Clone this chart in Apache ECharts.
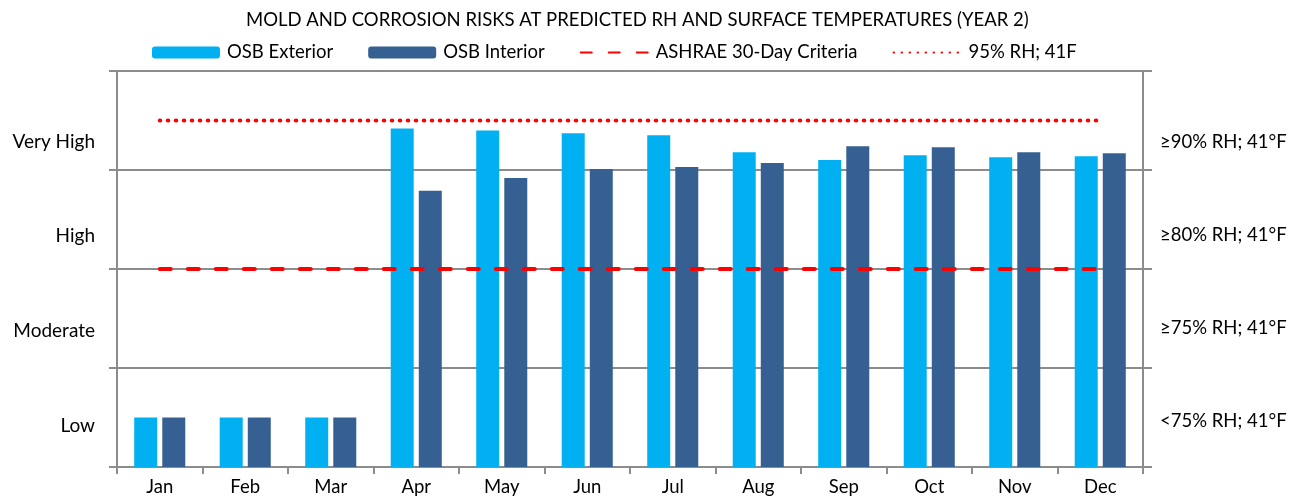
<!DOCTYPE html>
<html><head><meta charset="utf-8">
<script src="https://cdn.jsdelivr.net/npm/echarts@6/dist/echarts.min.js"></script>
<style>html,body{margin:0;padding:0;background:#fff}#c{width:1297px;height:498px}</style>
</head><body><div id="c"></div>
<script>
const months = ['Jan','Feb','Mar','Apr','May','Jun','Jul','Aug','Sep','Oct','Nov','Dec'];
const osbExterior = [0.5,0.5,0.5,3.42,3.40,3.37,3.35,3.18,3.10,3.15,3.13,3.14];
const osbInterior = [0.5,0.5,0.5,2.79,2.92,3.01,3.03,3.07,3.24,3.23,3.18,3.17];
const ashrae = [2,2,2,2,2,2,2,2,2,2,2,2];
const rh95 = [3.5,3.5,3.5,3.5,3.5,3.5,3.5,3.5,3.5,3.5,3.5,3.5];
const riskLevels = ['Low','Moderate','High','Very High'];
const rhLevels = ['<75% RH; 41°F','≥75% RH; 41°F','≥80% RH; 41°F','≥90% RH; 41°F'];
const bands = ['b1','b2','b3','b4'];

const FONT = 'Lato';
const axisGray = '#8c8c8c';
const noAxis = {axisLine:{show:false},axisTick:{show:false},splitLine:{show:false},axisLabel:{show:false}};
const chart = echarts.init(document.getElementById('c'));
chart.setOption({
  animation:false,
  textStyle:{fontFamily:FONT,color:'#000'},
  title:{text:'MOLD AND CORROSION RISKS AT PREDICTED RH AND SURFACE TEMPERATURES (YEAR 2)',left:241,top:6,
    textStyle:{fontFamily:FONT,fontSize:18.5,fontWeight:'normal',color:'#000'}},
  legend:{top:38,left:147,itemWidth:68,itemHeight:12,itemGap:35,
    textStyle:{fontFamily:FONT,fontSize:18.5,color:'#000',padding:[0,0,0,2]},
    data:[{name:'OSB Exterior'},{name:'OSB Interior'},
      {name:'ASHRAE 30-Day Criteria',itemStyle:{opacity:0}},
      {name:'95% RH; 41F',itemStyle:{opacity:0}}]},
  grid:[
    {left:117,right:154,top:71,bottom:31,containLabel:false},
    {left:117,right:154,top:94,height:379,containLabel:false},
    {left:117,right:154,top:95,height:373,containLabel:false}
  ],
  xAxis:[
    {type:'category',data:months,gridIndex:0,
      axisLine:{lineStyle:{color:axisGray,width:2}},
      axisTick:{show:true,length:7,lineStyle:{color:axisGray,width:2}},
      axisLabel:{fontFamily:FONT,fontSize:18.5,color:'#000',margin:11}},
    Object.assign({type:'value',gridIndex:1},noAxis),
    Object.assign({type:'value',gridIndex:2},noAxis)
  ],
  yAxis:[
    {type:'value',min:0,max:4,show:false,gridIndex:0},
    {type:'category',data:bands,position:'left',gridIndex:0,
      axisLine:{show:true,lineStyle:{color:axisGray,width:2}},
      axisTick:{show:true,length:8,lineStyle:{color:axisGray,width:2}},
      splitLine:{show:true,lineStyle:{color:axisGray,width:2}},
      axisLabel:{show:false}},
    {type:'category',data:bands,position:'right',gridIndex:0,
      axisLine:{show:true,lineStyle:{color:axisGray,width:2}},
      axisTick:{show:true,length:9,lineStyle:{color:axisGray,width:2}},
      splitLine:{show:false},axisLabel:{show:false}},
    {type:'category',data:riskLevels,position:'left',gridIndex:1,
      axisLine:{show:false},axisTick:{show:false},splitLine:{show:false},
      axisLabel:{fontFamily:FONT,fontSize:19,color:'#000',margin:22,interval:0}},
    {type:'category',data:rhLevels,position:'right',gridIndex:2,
      axisLine:{show:false},axisTick:{show:false},splitLine:{show:false},
      axisLabel:{fontFamily:FONT,fontSize:18.5,color:'#000',margin:17,interval:0}}
  ],
  series:[
    {name:'OSB Exterior',type:'bar',xAxisIndex:0,yAxisIndex:0,data:osbExterior,barWidth:23,barGap:'22%',
      itemStyle:{color:'#00B0F0'}},
    {name:'OSB Interior',type:'bar',xAxisIndex:0,yAxisIndex:0,data:osbInterior,barWidth:23,barGap:'22%',
      itemStyle:{color:'#376092'}},
    {name:'ASHRAE 30-Day Criteria',type:'line',xAxisIndex:0,yAxisIndex:0,data:ashrae,symbol:'none',z:5,
      lineStyle:{color:'#FF0000',width:4,type:[11,17],cap:'round'},itemStyle:{color:'#FF0000'}},
    {name:'95% RH; 41F',type:'line',xAxisIndex:0,yAxisIndex:0,data:rh95,symbol:'none',z:5,
      lineStyle:{color:'#FF0000',width:4,type:[0.5,7.5],cap:'round'},itemStyle:{color:'#FF0000'}}
  ]
});
</script></body></html>
